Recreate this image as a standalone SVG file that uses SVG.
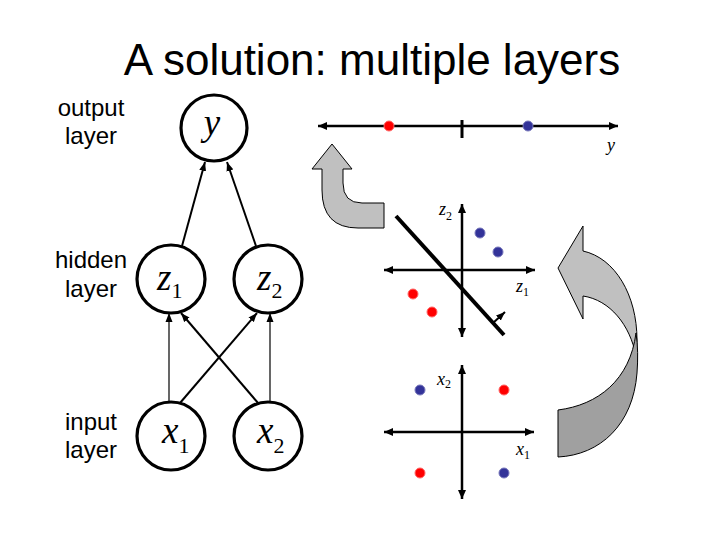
<svg xmlns="http://www.w3.org/2000/svg" width="720" height="540" viewBox="0 0 720 540">
<style>
.title{font-family:"Liberation Sans",Arial,sans-serif;font-size:44px;fill:#000}
.lbl{font-family:"Liberation Sans",Arial,sans-serif;font-size:24px;fill:#000;text-anchor:middle}
.node{fill:#fff;stroke:#000;stroke-width:3.2}
.nt{font-family:"Liberation Serif","Times New Roman",serif;font-size:37px;font-style:italic;fill:#000}
.sub{font-style:normal;font-size:22px}
.edge{stroke:#000;fill:none;marker-end:url(#ah)}
.thick{stroke-width:2}
.thin{stroke-width:1.2}
.axis{stroke:#000;stroke-width:2.5;fill:none;marker-start:url(#ax);marker-end:url(#ax)}
.al{font-family:"Liberation Serif","Times New Roman",serif;font-size:18px;font-style:italic;fill:#000}
.as{font-style:normal;font-size:12px}
.red{fill:#ff0000;stroke:#ff6666;stroke-width:1}
.blue{fill:#333399;stroke:#7777bb;stroke-width:1}
</style>
<defs>
<marker id="ah" markerUnits="userSpaceOnUse" markerWidth="10" markerHeight="8" refX="9" refY="4" orient="auto-start-reverse">
<path d="M0,0.5 L9,4 L0,7.5 z" fill="#000"/>
</marker>
<marker id="ax" markerUnits="userSpaceOnUse" markerWidth="10" markerHeight="10" refX="9" refY="5" orient="auto-start-reverse">
<path d="M0,1 L9,5 L0,9 z" fill="#000"/>
</marker>
</defs>
<rect width="720" height="540" fill="#fff"/>
<text class="title" x="372" y="75" text-anchor="middle">A solution: multiple layers</text>
<g id="labels">
<text class="lbl" x="91" y="116">output</text>
<text class="lbl" x="91" y="144">layer</text>
<text class="lbl" x="91" y="268">hidden</text>
<text class="lbl" x="91" y="297">layer</text>
<text class="lbl" x="91" y="430">input</text>
<text class="lbl" x="91" y="458">layer</text>
</g>
<g id="connectors">
<line class="edge thick" x1="182" y1="246" x2="205" y2="162"/>
<line class="edge thick" x1="256" y1="246" x2="227" y2="162"/>
<line class="edge thin" x1="169" y1="402" x2="169" y2="313"/>
<line class="edge thick" x1="180" y1="403" x2="257" y2="313"/>
<line class="edge thick" x1="258" y1="403" x2="181" y2="313"/>
<line class="edge thin" x1="270" y1="402" x2="270" y2="313"/>
</g>
<g id="node-y">
<circle class="node" cx="214" cy="128" r="33"/>
<text class="nt" x="212" y="135" text-anchor="middle">y</text>
</g>
<g id="node-z1">
<circle class="node" cx="171" cy="279" r="34"/>
<text class="nt" x="157" y="290">z<tspan class="sub" dy="8">1</tspan></text>
</g>
<g id="node-z2">
<circle class="node" cx="268" cy="279" r="34"/>
<text class="nt" x="257" y="290">z<tspan class="sub" dy="8">2</tspan></text>
</g>
<g id="node-x1">
<circle class="node" cx="171" cy="436" r="34"/>
<text class="nt" x="162" y="443">x<tspan class="sub" dy="10">1</tspan></text>
</g>
<g id="node-x2">
<circle class="node" cx="268" cy="436" r="34"/>
<text class="nt" x="257" y="443">x<tspan class="sub" dy="10">2</tspan></text>
</g>
<g id="plot-y">
<line class="axis" x1="318" y1="126" x2="618" y2="126"/>
<line x1="462" y1="120" x2="462" y2="138" stroke="#000" stroke-width="3"/>
<circle class="red" cx="389" cy="126" r="5"/>
<circle class="blue" cx="528" cy="126" r="5"/>
<text class="al" x="607" y="151">y</text>
</g>
<g id="arrow-up">
<path d="M332,144 L352,169 L343,169 L343,183 Q343,203 362,203 L384,203 L384,228 L358,228 Q322,228 322,190 L322,169 L312,169 Z" fill="#c0c0c0" stroke="#000" stroke-width="1"/>
</g>
<g id="plot-z">
<line class="axis" x1="384" y1="270" x2="535" y2="270"/>
<line class="axis" x1="462" y1="337" x2="462" y2="204"/>
<line x1="396" y1="216" x2="504" y2="335" stroke="#000" stroke-width="4"/>
<line x1="493" y1="323" x2="505" y2="312" stroke="#000" stroke-width="2" marker-end="url(#ah)"/>
<circle class="blue" cx="480" cy="233" r="5"/>
<circle class="blue" cx="498" cy="252" r="5"/>
<circle class="red" cx="413" cy="294" r="5"/>
<circle class="red" cx="432" cy="312" r="5"/>
<text class="al" x="439" y="215">z<tspan class="as" dy="5">2</tspan></text>
<text class="al" x="516" y="292">z<tspan class="as" dy="4">1</tspan></text>
</g>
<g id="plot-x">
<line class="axis" x1="384" y1="432" x2="534" y2="432"/>
<line class="axis" x1="462" y1="499" x2="462" y2="365"/>
<circle class="blue" cx="420" cy="390" r="5"/>
<circle class="blue" cx="504" cy="473" r="5"/>
<circle class="red" cx="504" cy="390" r="5"/>
<circle class="red" cx="420" cy="473" r="5"/>
<text class="al" x="437" y="385">x<tspan class="as" dy="3">2</tspan></text>
<text class="al" x="516" y="455">x<tspan class="as" dy="4">1</tspan></text>
</g>
<g id="arrow-curved">
<path d="M558,268 L583,226 L583,251 C615,258 637,295 637,340 L636,356 C630,325 610,300 583,296 L583,319 Z" fill="#c0c0c0" stroke="#000" stroke-width="1"/>
<path d="M558,410 C598,405 630,380 636,333 C638,345 638,360 637,373 C633,425 600,455 558,457 Z" fill="#a0a0a0" stroke="#000" stroke-width="1"/>
</g>
</svg>
